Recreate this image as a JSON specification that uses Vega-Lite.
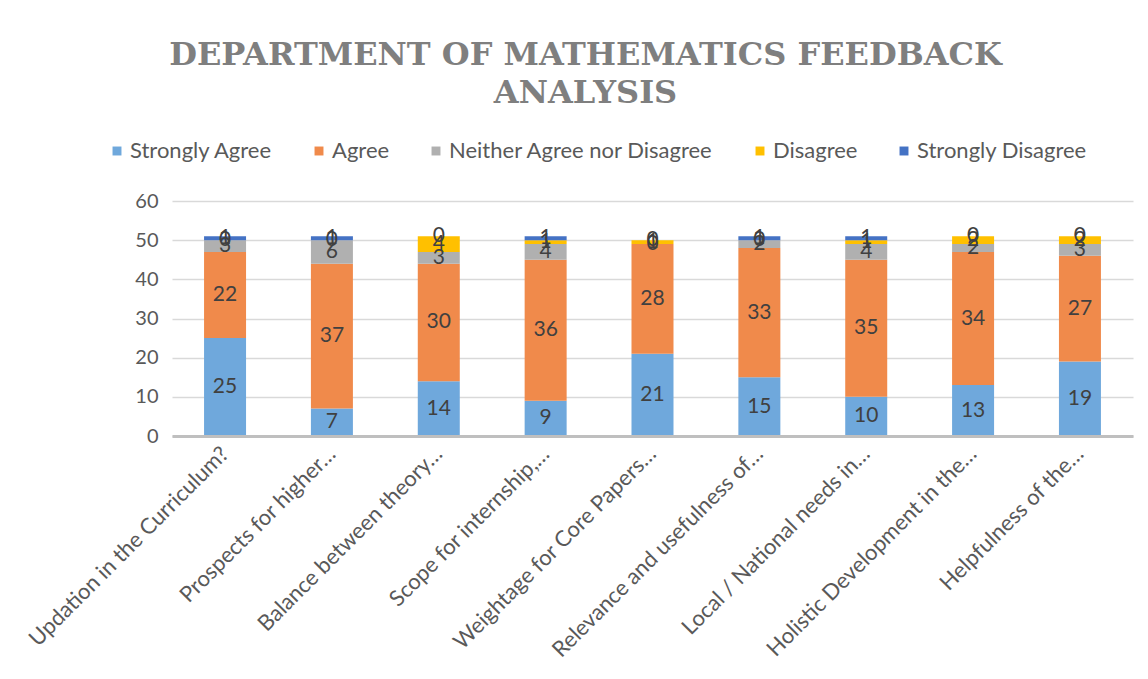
{
  "$schema": "https://vega.github.io/schema/vega-lite/v6.json",
  "width": 961,
  "height": 235,
  "autosize": "none",
  "padding": {"left": 172, "top": 201, "right": 15, "bottom": 243},
  "background": "white",
  "config": {
    "view": {"stroke": null},
    "axisY": {
      "labelOverlap": false,
      "labelFont": "Lato",
      "labelFontSize": 20,
      "labelColor": "#595959",
      "labelPadding": 14,
      "tickSize": 0,
      "domain": false,
      "grid": true,
      "gridColor": "#d9d9d9",
      "gridOpacity": 1,
      "gridWidth": 1.5
    }
  },
  "title": {
    "text": ["DEPARTMENT OF MATHEMATICS FEEDBACK", "ANALYSIS"],
    "font": "DejaVu Serif",
    "fontSize": 32,
    "fontWeight": "bold",
    "color": "#7f7f7f",
    "lineHeight": 38,
    "anchor": "middle",
    "dx": -67,
    "offset": 30
  },
  "data": {
    "values": [
      {"question": "Updation in the Curriculum?", "response": "Strongly Agree", "value": 25},
      {"question": "Updation in the Curriculum?", "response": "Agree", "value": 22},
      {"question": "Updation in the Curriculum?", "response": "Neither Agree nor Disagree", "value": 3},
      {"question": "Updation in the Curriculum?", "response": "Disagree", "value": 0},
      {"question": "Updation in the Curriculum?", "response": "Strongly Disagree", "value": 1},
      {"question": "Prospects for higher…", "response": "Strongly Agree", "value": 7},
      {"question": "Prospects for higher…", "response": "Agree", "value": 37},
      {"question": "Prospects for higher…", "response": "Neither Agree nor Disagree", "value": 6},
      {"question": "Prospects for higher…", "response": "Disagree", "value": 0},
      {"question": "Prospects for higher…", "response": "Strongly Disagree", "value": 1},
      {"question": "Balance between theory…", "response": "Strongly Agree", "value": 14},
      {"question": "Balance between theory…", "response": "Agree", "value": 30},
      {"question": "Balance between theory…", "response": "Neither Agree nor Disagree", "value": 3},
      {"question": "Balance between theory…", "response": "Disagree", "value": 4},
      {"question": "Balance between theory…", "response": "Strongly Disagree", "value": 0},
      {"question": "Scope for internship,…", "response": "Strongly Agree", "value": 9},
      {"question": "Scope for internship,…", "response": "Agree", "value": 36},
      {"question": "Scope for internship,…", "response": "Neither Agree nor Disagree", "value": 4},
      {"question": "Scope for internship,…", "response": "Disagree", "value": 1},
      {"question": "Scope for internship,…", "response": "Strongly Disagree", "value": 1},
      {"question": "Weightage for Core Papers…", "response": "Strongly Agree", "value": 21},
      {"question": "Weightage for Core Papers…", "response": "Agree", "value": 28},
      {"question": "Weightage for Core Papers…", "response": "Neither Agree nor Disagree", "value": 0},
      {"question": "Weightage for Core Papers…", "response": "Disagree", "value": 1},
      {"question": "Weightage for Core Papers…", "response": "Strongly Disagree", "value": 0},
      {"question": "Relevance and usefulness of…", "response": "Strongly Agree", "value": 15},
      {"question": "Relevance and usefulness of…", "response": "Agree", "value": 33},
      {"question": "Relevance and usefulness of…", "response": "Neither Agree nor Disagree", "value": 2},
      {"question": "Relevance and usefulness of…", "response": "Disagree", "value": 0},
      {"question": "Relevance and usefulness of…", "response": "Strongly Disagree", "value": 1},
      {"question": "Local / National needs in…", "response": "Strongly Agree", "value": 10},
      {"question": "Local / National needs in…", "response": "Agree", "value": 35},
      {"question": "Local / National needs in…", "response": "Neither Agree nor Disagree", "value": 4},
      {"question": "Local / National needs in…", "response": "Disagree", "value": 1},
      {"question": "Local / National needs in…", "response": "Strongly Disagree", "value": 1},
      {"question": "Holistic Development in the…", "response": "Strongly Agree", "value": 13},
      {"question": "Holistic Development in the…", "response": "Agree", "value": 34},
      {"question": "Holistic Development in the…", "response": "Neither Agree nor Disagree", "value": 2},
      {"question": "Holistic Development in the…", "response": "Disagree", "value": 2},
      {"question": "Holistic Development in the…", "response": "Strongly Disagree", "value": 0},
      {"question": "Helpfulness of the…", "response": "Strongly Agree", "value": 19},
      {"question": "Helpfulness of the…", "response": "Agree", "value": 27},
      {"question": "Helpfulness of the…", "response": "Neither Agree nor Disagree", "value": 3},
      {"question": "Helpfulness of the…", "response": "Disagree", "value": 2},
      {"question": "Helpfulness of the…", "response": "Strongly Disagree", "value": 0}
    ]
  },
  "transform": [
    {"calculate": "indexof(['Strongly Agree','Agree','Neither Agree nor Disagree','Disagree','Strongly Disagree'], datum.response)", "as": "rank"},
    {"stack": "value", "groupby": ["question"], "sort": [{"field": "rank", "order": "ascending"}], "as": ["y0", "y1"]},
    {"calculate": "(datum.y0 + datum.y1) / 2", "as": "mid"}
  ],
  "encoding": {
    "x": {
      "field": "question",
      "type": "nominal",
      "sort": null,
      "scale": {"paddingInner": 0.607, "paddingOuter": 0.3},
      "axis": {
        "title": null,
        "labelAngle": -45,
        "labelAlign": "right",
        "labelBaseline": "middle",
        "labelFont": "Lato",
        "labelFontSize": 22,
        "labelColor": "#595959",
        "labelPadding": 14,
        "labelLimit": 400,
        "ticks": false,
        "domainColor": "#bfbfbf",
        "domainWidth": 3,
        "zindex": 1
      }
    }
  },
  "layer": [
    {
      "mark": {"type": "bar"},
      "encoding": {
        "y": {
          "field": "y0",
          "type": "quantitative",
          "scale": {"domain": [0, 60]},
          "axis": {"title": null, "values": [0, 10, 20, 30, 40, 50, 60], "grid": true, "zindex": 0}
        },
        "y2": {"field": "y1"},
        "color": {
          "field": "response",
          "type": "nominal",
          "scale": {
            "domain": ["Strongly Agree", "Agree", "Neither Agree nor Disagree", "Disagree", "Strongly Disagree"],
            "range": ["#6fa8dc", "#f08a4b", "#b0b0b0", "#ffc000", "#4472c4"]
          },
          "legend": {
            "title": null,
            "orient": "none",
            "direction": "horizontal",
            "legendX": -66,
            "legendY": -61,
            "symbolType": "square",
            "symbolSize": 80,
            "labelFont": "Lato",
            "labelFontSize": 22,
            "labelColor": "#595959",
            "columnPadding": 35,
            "labelOffset": 2,
            "labelLimit": 400
          }
        }
      }
    },
    {
      "mark": {"type": "text", "font": "Lato", "fontSize": 21, "color": "#404040", "baseline": "middle"},
      "encoding": {
        "y": {"field": "mid", "type": "quantitative", "axis": {"title": null, "values": [0, 10, 20, 30, 40, 50, 60], "grid": true, "zindex": 0}},
        "text": {"field": "value", "type": "quantitative"}
      }
    }
  ]
}
